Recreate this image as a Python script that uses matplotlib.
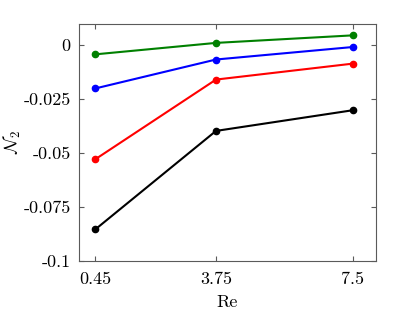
import matplotlib
matplotlib.use("Agg")
import matplotlib.pyplot as plt

plt.rcParams.update({
    "font.family": "cmr10",
    "mathtext.fontset": "cm",
    "axes.unicode_minus": False,
    "font.size": 13,
})

re_vals = [0.45, 3.75, 7.5]
green = [-0.0042, 0.0011, 0.0046]
blue = [-0.0200, -0.0066, -0.0008]
red = [-0.0528, -0.0159, -0.0085]
black = [-0.0853, -0.0397, -0.0301]

yticks = [0, -0.025, -0.05, -0.075, -0.1]
ytick_labels = ["0", "-0.025", "-0.05", "-0.075", "-0.1"]
xtick_labels = ["0.45", "3.75", "7.5"]

fig = plt.figure(figsize=(4.15, 3.12), dpi=100)
ax = fig.add_axes([79 / 415, 1 - 261 / 312, (376 - 79) / 415, (261 - 23.7) / 312])

for y, c in [(black, "black"), (red, "red"), (blue, "blue"), (green, "green")]:
    ax.plot(re_vals, y, color=c, marker="o", markersize=4.5, linewidth=1.5)

ax.set_xlim(0, 8.13)
ax.set_ylim(-0.1, 0.01)
ax.set_xticks(re_vals)
ax.set_xticklabels(xtick_labels)
ax.set_yticks(yticks)
ax.set_yticklabels(ytick_labels)
ax.set_xlabel("Re")
ax.set_ylabel(r"$\mathcal{N}_2$")
ax.xaxis.set_label_coords(0.5, -0.14)
ax.yaxis.set_label_coords(-0.19, 0.5)

for s in ax.spines.values():
    s.set_color("#5a5a5a")
    s.set_linewidth(0.8)
ax.tick_params(direction="in", top=True, right=True, length=3.5, color="#5a5a5a", width=0.8)
ax.tick_params(axis="x", pad=8)
ax.tick_params(axis="y", pad=6)

fig.savefig("out.png", dpi=100)
